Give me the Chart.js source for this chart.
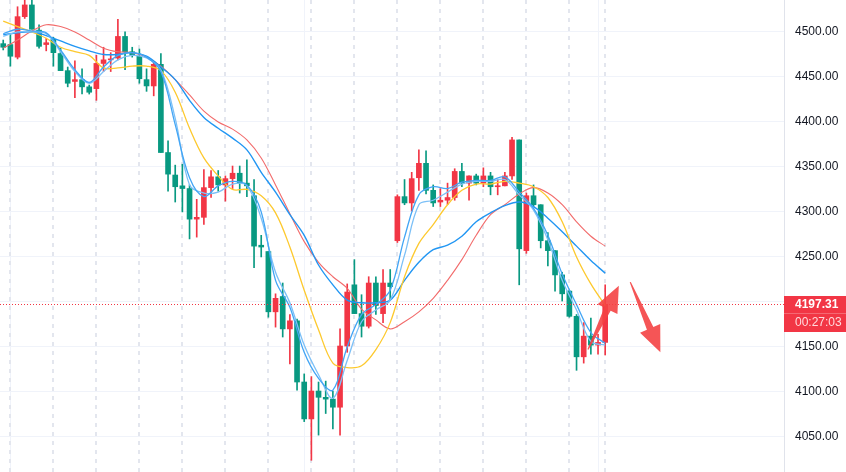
<!DOCTYPE html>
<html>
<head>
<meta charset="utf-8">
<script src="https://cdn.jsdelivr.net/npm/chart.js@4.4.1/dist/chart.umd.min.js"></script>
<style>
html, body { margin: 0; padding: 0; background: #ffffff; }
canvas { display: block; }
</style>
</head>
<body>
<canvas id="chart" width="846" height="472"></canvas>
<script>
// ローソク足 (始値・高値・安値・終値)
const opens  = [4487,4486,4472,4517,4530,4502,4486,4492,4476,4457, 4445,4447,4439,4437,4465,4469,4471,4495,4478,4473,
                4447,4440,4464,4366,4341,4329,4326,4292,4294,4327, 4339,4330,4337,4343,4332,4318,4263,4256,4189,4206,
                4170,4179,4111,4070,4101,4094,4092,4083,4151,4219, 4187,4173,4221,4187,4221,4268,4317,4310,4338,4354,
                4324,4311,4313,4316,4345,4332,4340,4332,4340,4328, 4329,4340,4380,4257,4318,4308,4268,4257,4230,4212,
                4184,4139,4162,4152,4155];
const highs  = [4491,4497,4528,4540,4537,4508,4493,4494,4482,4461, 4468,4459,4441,4474,4483,4477,4514,4500,4483,4481,
                4459,4466,4476,4379,4352,4353,4330,4314,4347,4346, 4346,4340,4351,4351,4358,4336,4274,4256,4209,4221,
                4186,4181,4120,4117,4111,4112,4101,4170,4220,4247, 4208,4228,4228,4236,4236,4319,4336,4344,4369,4368,
                4330,4326,4332,4348,4354,4340,4342,4349,4344,4336, 4344,4383,4380,4321,4330,4308,4277,4257,4233,4213,
                4186,4177,4182,4164,4219];
const lows   = [4480,4462,4470,4515,4503,4482,4479,4462,4457,4439, 4427,4431,4431,4424,4456,4456,4469,4458,4472,4443,
                4434,4429,4366,4323,4311,4300,4270,4272,4286,4316, 4323,4312,4326,4321,4317,4238,4250,4183,4172,4161,
                4131,4102,4067,4024,4052,4076,4059,4052,4144,4187, 4161,4171,4186,4177,4202,4266,4308,4301,4324,4320,
                4306,4306,4308,4313,4328,4313,4330,4328,4319,4319, 4329,4336,4219,4254,4306,4260,4240,4212,4201,4183,
                4124,4132,4142,4142,4141];
const closes = [4483,4473,4517,4530,4503,4484,4488,4477,4457,4443, 4447,4439,4433,4465,4469,4470,4495,4478,4474,4448,
                4440,4464,4366,4342,4328,4326,4292,4294,4327,4339, 4330,4337,4343,4332,4329,4262,4261,4189,4204,4170,
                4179,4111,4070,4101,4094,4092,4083,4151,4211,4187, 4173,4221,4196,4221,4217,4317,4310,4337,4354,4324,
                4310,4313,4316,4345,4332,4340,4332,4340,4328,4329, 4340,4380,4259,4318,4308,4268,4257,4230,4209,4184,
                4139,4162,4152,4155,4197.31];

// 移動平均線 (2本おきに読み取り)
const maIdx = [0,2,4,6,8,10,12,14,16,18,20,22,24,26,28,30,32,34,36,38,40,42,44,46,48,50,52,54,56,58,60,62,64,66,68,70,72,74,76,78,80,82,84];
const maFastA = [4498,4503,4501,4499,4480,4458,4444,4461,4474,4477, 4472,4456,4397,4338,4317,4329,4334,4330,4300,4224,
                 4194,4144,4115,4102,4150,4186,4197,4213,4272,4319, 4328,4326,4333,4335,4335,4339,4322,4304,4274,4231,
                 4197,4166,4154];
const maFastB = [4495,4500,4500,4498,4478,4456,4443,4456,4469,4474, 4471,4458,4404,4330,4321,4322,4331,4329,4293,4233,
                 4199,4152,4119,4093,4135,4178,4191,4202,4252,4308, 4313,4322,4331,4334,4334,4336,4319,4302,4269,4224,
                 4191,4156,4152];
const maMid = [4512,4506,4500,4493,4483,4478,4474,4460,4460,4462, 4462,4457,4433,4393,4360,4340,4325,4325,4318,4299,
               4261,4213,4169,4132,4127,4129,4147,4177,4228,4265, 4286,4308,4324,4331,4331,4334,4332,4328,4316,4289,
               4250,4220,4196];
const maSlow = [4497,4499,4500,4496,4490,4484,4479,4475,4475,4477, 4473,4461,4447,4424,4405,4393,4382,4369,4344,4322,
                4297,4274,4241,4219,4202,4199,4199,4202,4224,4244, 4258,4263,4273,4289,4299,4307,4311,4306,4293,4278,
                4262,4246,4232];
const maLong = [4482,4491,4501,4508,4506,4500,4491,4482,4478,4477, 4472,4462,4447,4430,4412,4400,4392,4380,4360,4330,
                4298,4267,4244,4228,4215,4192,4180,4170,4178,4189, 4204,4224,4247,4274,4297,4308,4320,4327,4321,4308,
                4289,4273,4262];

// 目盛り・区切り線・注釈
const yTicks = [4050,4100,4150,4200,4250,4300,4350,4400,4450,4500];
const timeGridIdx = [1,42,83];
const sessionIdx = [1,7,13,19,25,31,37,43,49,55,61,67,73,79,84];
const lastPrice = 4197.31;
const countdown = '00:27:03';
const arrows = [
    { from: [81.6, 4147], to: [85.9, 4218] },
    { from: [87.5, 4222], to: [91.7, 4144] }
];

const UP = '#f23645';
const DOWN = '#089981';
const FONT = '"Liberation Sans", Arial, sans-serif';

// ローソク足のデータセットを作成
function candleData(){
    let wicks = [], bodies = [], colors = [];
    for (let i = 0; i < closes.length; i++) {
        wicks.push({ x: i, y: [lows[i], highs[i]] });
        bodies.push({ x: i, y: [Math.min(opens[i], closes[i]), Math.max(opens[i], closes[i])] });
        colors.push(closes[i] >= opens[i] ? UP : DOWN);
    }
    return { wicks, bodies, colors };
}

function maDataset(values, color, width){
    return {
        type: 'line',
        data: maIdx.map((x, i) => ({ x: x, y: values[i] })),
        borderColor: color,
        borderWidth: width,
        pointRadius: 0,
        tension: 0.35,
        fill: false,
        order: 0
    };
}

// 縦の区切り線・現在値ライン・矢印・価格軸ラベル
const overlay = {
    id: 'overlay',
    beforeDatasetsDraw(chart){
        const { ctx, chartArea, scales } = chart;
        ctx.save();
        ctx.strokeStyle = '#f0f3fa';
        ctx.lineWidth = 1;
        timeGridIdx.forEach(i => {
            const px = Math.round(scales.x.getPixelForValue(i)) + 0.5;
            ctx.beginPath(); ctx.moveTo(px, chartArea.top); ctx.lineTo(px, chartArea.bottom); ctx.stroke();
        });
        ctx.strokeStyle = '#e3e6ee';
        ctx.lineWidth = 2;
        ctx.setLineDash([4, 5]);
        sessionIdx.forEach(i => {
            const px = Math.round(scales.x.getPixelForValue(i));
            ctx.beginPath(); ctx.moveTo(px, chartArea.top); ctx.lineTo(px, chartArea.bottom); ctx.stroke();
        });
        ctx.restore();
    },
    afterDatasetsDraw(chart){
        const { ctx, chartArea, scales } = chart;
        ctx.save();
        // 現在値の点線
        const py = Math.round(scales.y.getPixelForValue(lastPrice)) + 0.5;
        ctx.strokeStyle = UP;
        ctx.lineWidth = 1;
        ctx.setLineDash([1, 2]);
        ctx.beginPath(); ctx.moveTo(chartArea.left, py); ctx.lineTo(chartArea.right, py); ctx.stroke();
        ctx.setLineDash([]);
        // 矢印
        ctx.fillStyle = 'rgba(244, 67, 68, 0.9)';
        arrows.forEach(a => {
            const x0 = scales.x.getPixelForValue(a.from[0]), y0 = scales.y.getPixelForValue(a.from[1]);
            const x1 = scales.x.getPixelForValue(a.to[0]), y1 = scales.y.getPixelForValue(a.to[1]);
            const len = Math.hypot(x1 - x0, y1 - y0);
            const dx = (x1 - x0) / len, dy = (y1 - y0) / len;
            const nx = -dy, ny = dx;
            const head = 26, headW = 11, shaftW = 3.5, tailW = 0.6;
            const bx = x1 - dx * head, by = y1 - dy * head;
            ctx.beginPath();
            ctx.moveTo(x0 + nx * tailW, y0 + ny * tailW);
            ctx.lineTo(bx + nx * shaftW, by + ny * shaftW);
            ctx.lineTo(bx + nx * headW, by + ny * headW);
            ctx.lineTo(x1, y1);
            ctx.lineTo(bx - nx * headW, by - ny * headW);
            ctx.lineTo(bx - nx * shaftW, by - ny * shaftW);
            ctx.lineTo(x0 - nx * tailW, y0 - ny * tailW);
            ctx.closePath();
            ctx.fill();
        });
        ctx.restore();
    },
    afterDraw(chart){
        const { ctx, chartArea, scales } = chart;
        const lx = chartArea.right + 11;
        ctx.save();
        // 価格軸の目盛りラベル
        ctx.textBaseline = 'middle';
        ctx.textAlign = 'left';
        ctx.fillStyle = '#131722';
        ctx.font = '12px ' + FONT;
        yTicks.forEach(v => {
            ctx.fillText(v.toFixed(2), lx, scales.y.getPixelForValue(v));
        });
        // 現在値ラベル
        const py = scales.y.getPixelForValue(lastPrice);
        const top = Math.round(py) - 8;
        ctx.fillStyle = UP;
        ctx.fillRect(chartArea.right, top, chart.width - chartArea.right, 36);
        ctx.fillStyle = 'rgba(255,255,255,0.25)';
        ctx.fillRect(chartArea.right, top + 17, chart.width - chartArea.right, 1);
        ctx.fillStyle = '#ffffff';
        ctx.font = 'bold 12px ' + FONT;
        ctx.fillText(lastPrice.toFixed(2), lx, top + 9);
        ctx.fillStyle = '#ffd9dc';
        ctx.font = '12px ' + FONT;
        ctx.fillText(countdown, lx, top + 27);
        ctx.restore();
    }
};

// グラフを作成
function createChart(){
    const c = candleData();
    const ctx = document.getElementById('chart').getContext('2d');
    new Chart(ctx, {
        type: 'bar',
        data: {
            datasets: [
                maDataset(maFastA, '#42a5f5', 1.3),
                maDataset(maFastB, '#7cc0f7', 1.3),
                maDataset(maMid, '#fdc92e', 1.3),
                maDataset(maSlow, '#2196f3', 1.4),
                maDataset(maLong, '#f26b6b', 1.1),
                {
                    data: c.wicks,
                    backgroundColor: c.colors,
                    barThickness: 1,
                    grouped: false,
                    order: 2
                },
                {
                    data: c.bodies,
                    backgroundColor: c.colors,
                    barThickness: 5,
                    minBarLength: 1,
                    grouped: false,
                    order: 1
                }
            ]
        },
        plugins: [overlay],
        options: {
            responsive: false,
            animation: false,
            devicePixelRatio: 1,
            layout: { padding: 0 },
            plugins: {
                legend: { display: false },
                tooltip: { enabled: false }
            },
            scales: {
                x: {
                    type: 'linear',
                    min: -0.45,
                    max: 108.95,
                    display: false,
                    offset: false
                },
                y: {
                    position: 'right',
                    min: 4011,
                    max: 4535.5,
                    afterBuildTicks: (scale) => { scale.ticks = yTicks.map(v => ({ value: v })); },
                    afterFit: (scale) => { scale.width = 62; },
                    grid: { color: '#f0f3fa', drawTicks: false },
                    border: { color: '#e0e3eb' },
                    ticks: { display: false }
                }
            }
        }
    });
}

createChart();
</script>
</body>
</html>
